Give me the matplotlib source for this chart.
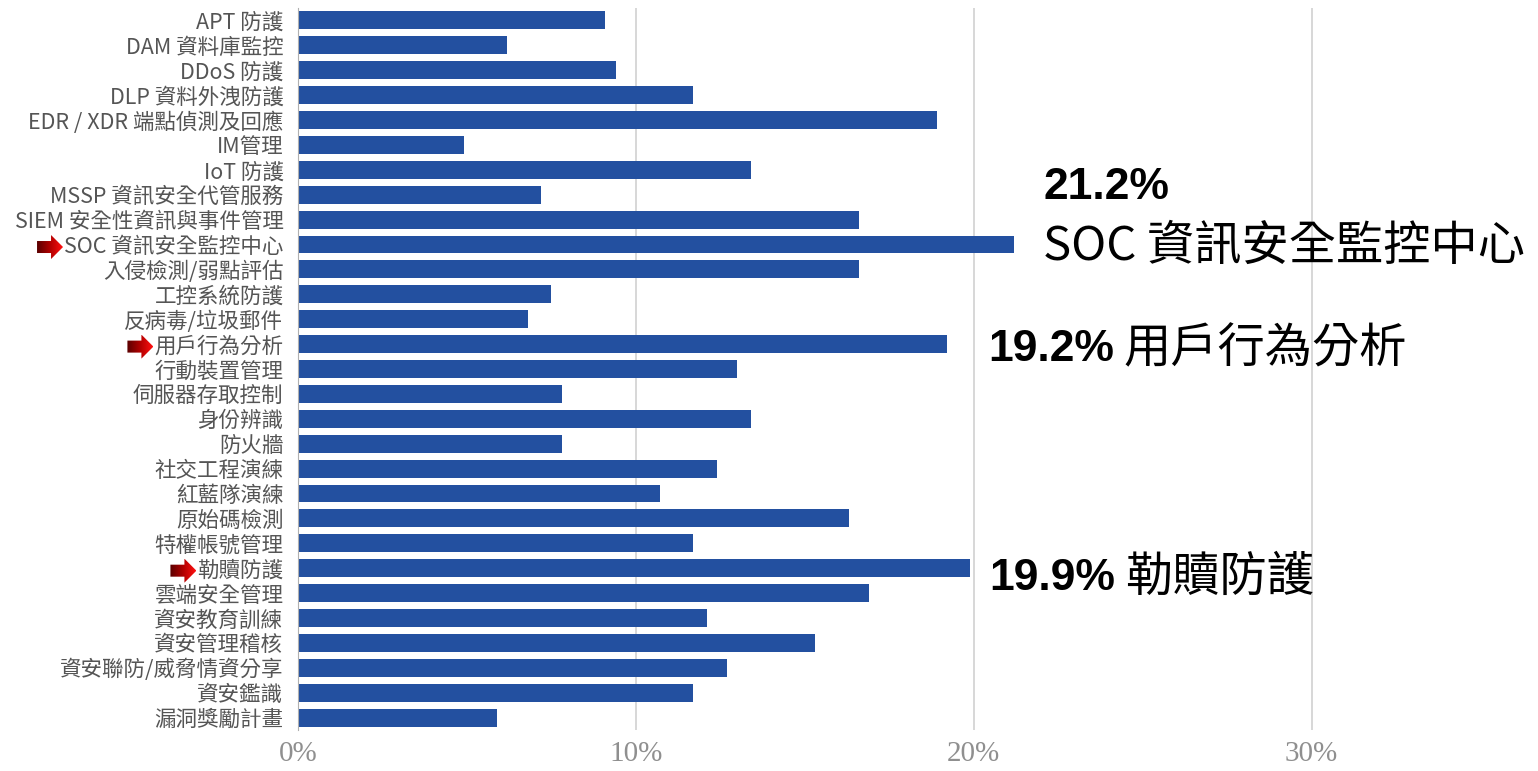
import numpy as np
import matplotlib
matplotlib.use('Agg')
from matplotlib import pyplot as plt
from matplotlib.patches import Polygon
from matplotlib.colors import LinearSegmentedColormap

# 各項資安服務 / 產品的比例 (%)
categories = ['APT 防護', 'DAM 資料庫監控', 'DDoS 防護', 'DLP 資料外洩防護',
              'EDR / XDR 端點偵測及回應', 'IM管理', 'IoT 防護', 'MSSP 資訊安全代管服務',
              'SIEM 安全性資訊與事件管理', 'SOC 資訊安全監控中心', '入侵檢測/弱點評估',
              '工控系統防護', '反病毒/垃圾郵件', '用戶行為分析', '行動裝置管理',
              '伺服器存取控制', '身份辨識', '防火牆', '社交工程演練', '紅藍隊演練',
              '原始碼檢測', '特權帳號管理', '勒贖防護', '雲端安全管理', '資安教育訓練',
              '資安管理稽核', '資安聯防/威脅情資分享', '資安鑑識', '漏洞獎勵計畫']
values = [9.1, 6.2, 9.4, 11.7, 18.9, 4.9, 13.4, 7.2, 16.6, 21.2, 16.6,
          7.5, 6.8, 19.2, 13.0, 7.8, 13.4, 7.8, 12.4, 10.7,
          16.3, 11.7, 19.9, 16.9, 12.1, 15.3, 12.7, 11.7, 5.9]
xticks = [0, 10, 20, 30]

highlight = ['SOC 資訊安全監控中心', '用戶行為分析', '勒贖防護']
callout_pct = ['21.2%', '19.2%', '19.9%']
callout_name = ['SOC 資訊安全監控中心', '用戶行為分析', '勒贖防護']

plt.rcParams['font.family'] = ['Noto Sans CJK TC', 'DejaVu Sans']

W, H = 1538, 771
fig = plt.figure(figsize=(W / 100, H / 100), dpi=100)
ax = fig.add_axes([298 / W, 41 / H, 1 - 298 / W, 722 / H])

y = np.arange(len(categories))
ax.barh(y, values, height=0.72, color='#2350a0', zorder=2)
ax.set_ylim(len(categories) - 0.5, -0.5)
ax.set_xlim(0, 36.7)

ax.set_xticks(xticks)
ax.set_xticklabels([f'{t}%' for t in xticks], family='Liberation Serif',
                   fontsize=21, color='#8f8f8f')
ax.set_yticks(y)
ax.set_yticklabels(categories, fontsize=15.5, color='#555555')
ax.tick_params(axis='y', length=0, pad=10.5)
ax.tick_params(axis='x', length=0, pad=8)
ax.grid(axis='x', color='#d4d4d4', lw=1.3, zorder=0)
ax.grid(axis='y', visible=False)
for s in ['top', 'right', 'bottom']:
    ax.spines[s].set_visible(False)
ax.spines['left'].set_color('#b0b0b0')
ax.spines['left'].set_zorder(3)

# 標註文字
pos = [(22.05, 6.7), (20.42, 13.2), (20.47, 22.4)]
for i in range(len(callout_pct)):
    if i == 0:
        ax.text(pos[i][0], pos[i][1], callout_pct[i], fontsize=32, weight='bold',
                family=['Liberation Sans', 'DejaVu Sans'], va='center', color='black')
        ax.text(pos[i][0], 9.1, callout_name[i], fontsize=34, weight='medium',
                va='center', color='black')
    else:
        t = ax.text(pos[i][0], pos[i][1], callout_pct[i], fontsize=32, weight='bold',
                    family=['Liberation Sans', 'DejaVu Sans'], va='center', color='black')
        ax.annotate(callout_name[i], xy=(1, 0.5), xycoords=t, xytext=(7, 0),
                    textcoords='offset points', va='center', fontsize=34,
                    weight='medium', color='black')

# 紅色箭頭
fig.canvas.draw()
renderer = fig.canvas.get_renderer()
over = fig.add_axes([0, 0, 1, 1], zorder=10)
over.set_xlim(0, W)
over.set_ylim(0, H)
over.axis('off')
over.patch.set_alpha(0)
cmap = LinearSegmentedColormap.from_list('arr', ['#5a0000', '#b00000', '#ff1010'])
grad = np.linspace(0, 1, 100).reshape(1, -1)
for lbl in ax.get_yticklabels():
    if lbl.get_text() in highlight:
        bb = lbl.get_window_extent(renderer)
        tip = bb.x0 - 1
        yc = (bb.y0 + bb.y1) / 2
        x0 = tip - 26
        xh = tip - 12
        pts = [(x0, yc - 6), (xh, yc - 6), (xh, yc - 12), (tip, yc),
               (xh, yc + 12), (xh, yc + 6), (x0, yc + 6)]
        poly = Polygon(pts, closed=True, facecolor='none', edgecolor='none')
        over.add_patch(poly)
        im = over.imshow(grad, cmap=cmap, extent=(x0, tip, yc - 12, yc + 12),
                         aspect='auto', interpolation='bilinear')
        im.set_clip_path(poly)
over.set_xlim(0, W)
over.set_ylim(0, H)

fig.savefig('out.png', dpi=100)
